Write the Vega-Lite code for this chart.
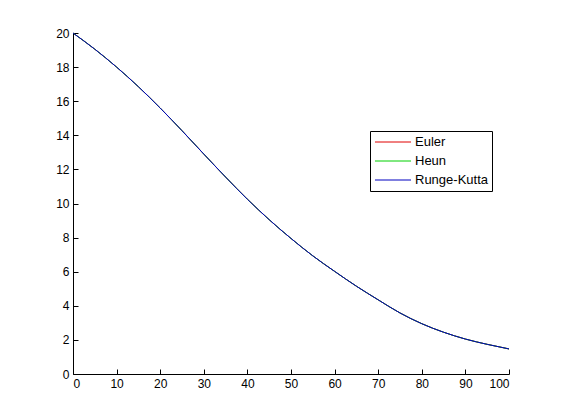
{
  "$schema": "https://vega.github.io/schema/vega-lite/v6.json",
  "autosize": "none",
  "width": 436,
  "height": 341,
  "padding": {"left": 73, "top": 33, "right": 52, "bottom": 46},
  "background": "white",
  "datasets": {
    "curve": [
      {"t": 0, "y": 20}, {"t": 5, "y": 19.05}, {"t": 10, "y": 18.0}, {"t": 15, "y": 16.85},
      {"t": 20, "y": 15.6}, {"t": 25, "y": 14.27}, {"t": 30, "y": 12.9}, {"t": 35, "y": 11.55},
      {"t": 40, "y": 10.25}, {"t": 45, "y": 9.05}, {"t": 50, "y": 7.95}, {"t": 55, "y": 6.93},
      {"t": 60, "y": 6.02}, {"t": 65, "y": 5.15}, {"t": 70, "y": 4.35}, {"t": 75, "y": 3.58},
      {"t": 80, "y": 2.95}, {"t": 85, "y": 2.45}, {"t": 90, "y": 2.05}, {"t": 95, "y": 1.74},
      {"t": 100, "y": 1.47}
    ]
  },
  "data": {"name": "curve"},
  "encoding": {
    "x": {"field": "t", "type": "quantitative", "scale": {"domain": [0, 100], "nice": false},
      "axis": {"title": null, "values": [0,10,20,30,40,50,60,70,80,90,100], "labelOverlap": false, "grid": false, "tickSize": -5, "labelPadding": 9, "domainColor": "black", "tickColor": "black", "labelColor": "black", "labelFont": "Liberation Sans", "labelFontSize": 12}},
    "y": {"field": "y", "type": "quantitative", "scale": {"domain": [0, 20], "nice": false},
      "axis": {"title": null, "values": [0,2,4,6,8,10,12,14,16,18,20], "labelOverlap": false, "grid": false, "tickSize": -5, "labelPadding": 9, "domainColor": "black", "tickColor": "black", "labelColor": "black", "labelFont": "Liberation Sans", "labelFontSize": 12}},
    "color": {
      "field": "method", "type": "nominal",
      "scale": {"domain": ["Euler", "Heun", "Runge-Kutta"], "range": ["#e00000", "#00d000", "#0000c0"]},
      "legend": {
        "title": null, "orient": "none", "legendX": 297, "legendY": 98,
        "symbolType": "stroke", "symbolSize": 1300, "symbolStrokeWidth": 1,
        "clipHeight": 14,
        "strokeColor": "black", "fillColor": "white", "padding": 4,
        "labelFont": "Liberation Sans", "labelFontSize": 13, "labelColor": "black",
        "rowPadding": 5, "labelOffset": 3
      }
    }
  },
  "layer": [
    {
      "transform": [{"calculate": "'Euler'", "as": "method"}],
      "mark": {"type": "line", "strokeWidth": 1, "interpolate": "monotone"}
    },
    {
      "transform": [{"calculate": "'Heun'", "as": "method"}],
      "mark": {"type": "line", "strokeWidth": 1, "interpolate": "monotone"}
    },
    {
      "transform": [{"calculate": "'Runge-Kutta'", "as": "method"}],
      "mark": {"type": "line", "strokeWidth": 1, "interpolate": "monotone"}
    }
  ],
  "config": {"view": {"stroke": null}}
}
